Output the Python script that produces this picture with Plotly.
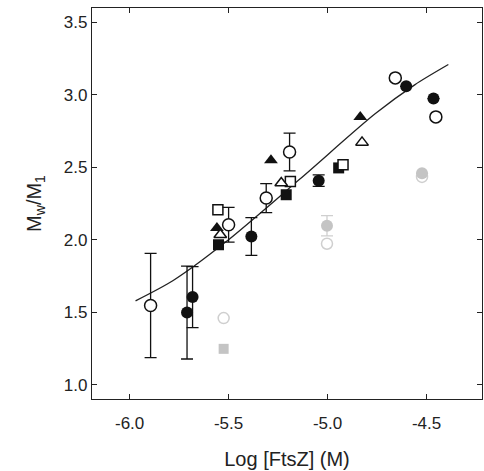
import plotly.graph_objects as go

# ---- data ----
open_circle_x = [-5.894, -5.500, -5.310, -5.192, -4.658, -4.453]
open_circle_y = [1.548, 2.105, 2.289, 2.607, 3.118, 2.849]
open_circle_err = [0.36, 0.12, 0.10, 0.13, 0.0, 0.0]

filled_circle_x = [-5.710, -5.682, -5.385, -5.045, -4.603, -4.465]
filled_circle_y = [1.499, 1.606, 2.024, 2.409, 3.060, 2.975]
filled_circle_err = [0.32, 0.21, 0.13, 0.04, 0.0, 0.0]

filled_square_x = [-5.551, -5.209, -4.944]
filled_square_y = [1.967, 2.312, 2.497]

open_square_x = [-5.554, -5.188, -4.922]
open_square_y = [2.209, 2.404, 2.519]

filled_tri_x = [-5.559, -5.286, -4.835]
filled_tri_y = [2.082, 2.549, 2.849]

open_tri_x = [-5.542, -5.234, -4.826]
open_tri_y = [2.036, 2.393, 2.673]

gray_square_x = [-5.525]
gray_square_y = [1.249]

gray_open_circle_x = [-5.525, -5.003, -4.523]
gray_open_circle_y = [1.461, 1.974, 2.435]

gray_filled_circle_x = [-5.003, -4.523]
gray_filled_circle_y = [2.098, 2.460]
gray_filled_circle_err = [0.07, 0.0]

fit_x = [-5.97, -5.78, -5.52, -5.14, -4.76, -4.56, -4.39]
fit_y = [1.58, 1.72, 1.98, 2.42, 2.87, 3.07, 3.21]

x_ticks = [-6.0, -5.5, -5.0, -4.5]
y_ticks = [1.0, 1.5, 2.0, 2.5, 3.0, 3.5]

BLACK = "#111111"
GRAY = "#c4c4c4"
GRAY_LINE = "#cfcfcf"

fig = go.Figure()

fig.add_trace(go.Scatter(x=fit_x, y=fit_y, mode="lines",
                         line=dict(color="#222222", width=1.3, shape="spline", smoothing=0.8),
                         hoverinfo="skip"))

def err(vals, color=BLACK):
    return dict(type="data", array=vals, visible=True, color=color, thickness=1.3, width=6)

fig.add_trace(go.Scatter(x=gray_square_x, y=gray_square_y, mode="markers",
                         marker=dict(symbol="square", size=10, color=GRAY, line=dict(width=0))))
fig.add_trace(go.Scatter(x=gray_open_circle_x, y=gray_open_circle_y, mode="markers",
                         marker=dict(symbol="circle", size=11, color="white",
                                     line=dict(color=GRAY_LINE, width=1.5))))
fig.add_trace(go.Scatter(x=gray_filled_circle_x, y=gray_filled_circle_y, mode="markers",
                         error_y=err(gray_filled_circle_err, GRAY_LINE),
                         marker=dict(symbol="circle", size=12, color=GRAY, line=dict(width=0))))

fig.add_trace(go.Scatter(x=filled_square_x, y=filled_square_y, mode="markers",
                         marker=dict(symbol="square", size=11, color=BLACK, line=dict(width=0))))
fig.add_trace(go.Scatter(x=open_square_x, y=open_square_y, mode="markers",
                         marker=dict(symbol="square", size=10, color="white",
                                     line=dict(color=BLACK, width=1.5))))
fig.add_trace(go.Scatter(x=filled_tri_x, y=filled_tri_y, mode="markers",
                         marker=dict(symbol="triangle-up", size=12, color=BLACK, line=dict(width=0))))
fig.add_trace(go.Scatter(x=open_tri_x, y=open_tri_y, mode="markers",
                         marker=dict(symbol="triangle-up", size=11, color="white",
                                     line=dict(color=BLACK, width=1.5))))
fig.add_trace(go.Scatter(x=filled_circle_x, y=filled_circle_y, mode="markers",
                         error_y=err(filled_circle_err),
                         marker=dict(symbol="circle", size=12, color=BLACK, line=dict(width=0))))
fig.add_trace(go.Scatter(x=open_circle_x, y=open_circle_y, mode="markers",
                         error_y=err(open_circle_err),
                         marker=dict(symbol="circle", size=12, color="white",
                                     line=dict(color=BLACK, width=1.5))))

axis_common = dict(showgrid=False, zeroline=False, showline=True, linecolor="#222222",
                   linewidth=1.3, mirror="ticks", ticks="inside", ticklen=5,
                   tickwidth=1.2, tickcolor="#222222", automargin=False,
                   tickfont=dict(family="Liberation Sans, Arial, sans-serif", size=17, color="#222222"))

fig.update_layout(
    width=484, height=471,
    margin=dict(l=92, r=2, t=8, b=72),
    paper_bgcolor="white", plot_bgcolor="white",
    showlegend=False,
    font=dict(family="Liberation Sans, Arial, sans-serif", color="#222222"),
    xaxis=dict(axis_common, range=[-6.19, -4.22], tickvals=x_ticks,
               ticktext=[f"{v:.1f}" for v in x_ticks], ticklabelstandoff=8,
               title=dict(text="Log [FtsZ] (M)", font=dict(size=20), standoff=20)),
    yaxis=dict(axis_common, range=[0.903, 3.6], tickvals=y_ticks,
               ticktext=[f"{v:.1f}" for v in y_ticks],
               title=dict(text="M<sub>w</sub>/M<sub>1</sub>", font=dict(size=20), standoff=16)),
)

fig.write_html("out.html", config={"displayModeBar": False},
               post_script="document.body.style.margin='0';document.body.style.padding='0';")
